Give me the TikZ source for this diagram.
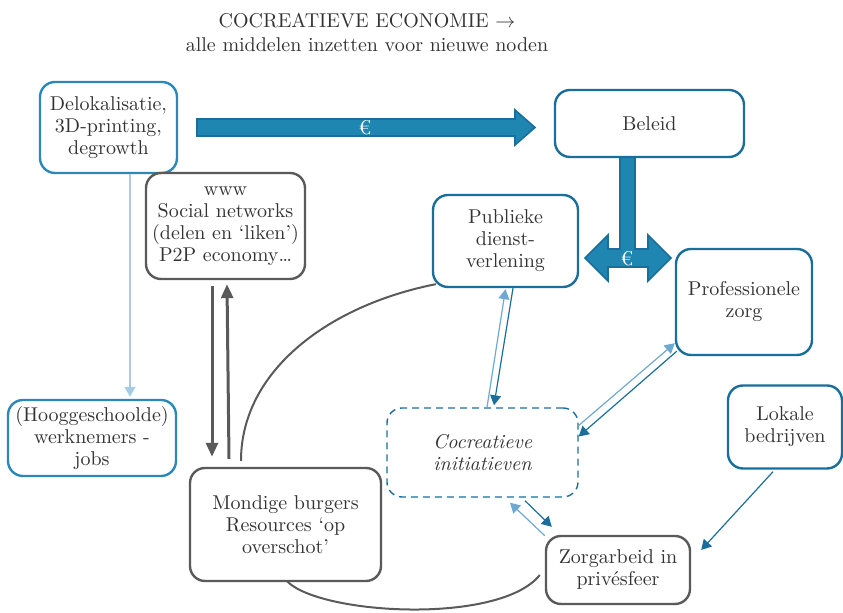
\documentclass[tikz,border=0pt]{standalone}
\usetikzlibrary{arrows.meta, calc}

\definecolor{txtgray}{HTML}{333333}
\definecolor{linegray}{HTML}{5A5A5A}
\definecolor{midblue}{HTML}{2B88B8}
\definecolor{darkblue}{HTML}{1A6E9C}
\definecolor{fillblue}{HTML}{1E86B0}
\definecolor{lightblue}{HTML}{6FA8D0}
\definecolor{paleblue}{HTML}{A8CCE4}

\begin{document}
\begin{tikzpicture}[
    x=0.5pt, y=-0.5pt, % one unit is one pixel of the reference, y downwards
    font=\fontsize{10}{11}\selectfont,
    every node/.style={text=txtgray, align=center, inner sep=0pt},
    box/.style={draw, rounded corners=7.5pt, line width=1.2pt, fill=white}, % all boxes
    bluebox/.style={box, draw=midblue}, % light border
    darkbox/.style={box, draw=darkblue}, % dark border
    graybox/.style={box, draw=linegray}, % gray border
    dashbox/.style={box, draw=darkblue, line width=0.7pt, dashed, dash pattern=on 3.5pt off 2.5pt}, % initiatives
    blockarrow/.style={fill=fillblue, draw=darkblue, line width=0.8pt}, % euro arrows
    eurolabel/.style={text=white}, % euro sign
    grayarrow/.style={draw=linegray, line width=1.5pt, -{Triangle[width=6pt, length=7pt]}}, % thick gray arrows
    grayline/.style={draw=linegray, line width=1pt}, % gray curves
    darkarrow/.style={draw=darkblue, line width=0.6pt, -{Triangle[width=5.5pt, length=5pt]}}, % dark blue arrows
    lightarrow/.style={draw=lightblue, line width=0.6pt, -{Triangle[width=5.5pt, length=5pt]}}, % light blue arrows
    palearrow/.style={draw=paleblue, line width=0.6pt, -{Triangle[width=5.5pt, length=5pt]}} % palest arrow
]
    \useasboundingbox (0,0) rectangle (843,613);

    % Title
    \node[font=\fontsize{10}{12}\selectfont] (title) at (367,32)
        {COCREATIEVE ECONOMIE $\rightarrow$\\alle middelen inzetten voor nieuwe noden};

    % Euro arrows
    \draw[blockarrow] (197,119) -- (515,119) -- (515,110) -- (535,127.5) -- (515,145)
        -- (515,136) -- (197,136) -- cycle;
    \node[eurolabel] (euroa) at (365,128) {€};
    \draw[blockarrow] (620,157) -- (635,157) -- (635,249) -- (648,249) -- (648,235)
        -- (671,258) -- (648,281) -- (648,267) -- (608,267) -- (608,281) -- (585,258)
        -- (608,235) -- (608,249) -- (620,249) -- cycle;
    \node[eurolabel] (eurob) at (627,259) {€};

    % Boxes
    \node[bluebox, minimum width=68.5pt, minimum height=45.5pt] (deloc) at (108.5,127.5)
        {Delokalisatie,\\3D-printing,\\degrowth};
    \node[darkbox, minimum width=94.5pt, minimum height=33.5pt] (beleid) at (649.5,123.5) {Beleid};
    \node[graybox, minimum width=79.5pt, minimum height=53pt] (www) at (225.5,226)
        {www\\Social networks\\(delen en ‘liken’)\\P2P economy\dots};
    \node[darkbox, minimum width=72.5pt, minimum height=46pt] (publiek) at (505.5,241)
        {Publieke\\dienst-\\verlening};
    \node[darkbox, minimum width=68pt, minimum height=53pt] (prof) at (744,302)
        {Professionele\\zorg};
    \node[darkbox, minimum width=57pt, minimum height=41.5pt] (lokaal) at (785,427)
        {Lokale\\bedrijven};
    \node[bluebox, minimum width=84pt, minimum height=38pt] (hoog) at (92,438)
        {(Hooggeschoolde)\\werknemers -\\jobs};
    \node[dashbox, minimum width=95.5pt, minimum height=44.5pt] (cocr) at (482.5,452.5)
        {\itshape Cocreatieve\\\itshape initiatieven};
    \node[graybox, minimum width=95.5pt, minimum height=56.5pt] (mondig) at (285.5,524.5)
        {Mondige burgers\\Resources ‘op\\overschot’};
    \node[graybox, minimum width=72pt, minimum height=34pt] (zorg) at (618,570)
        {Zorgarbeid in\\privésfeer};

    % Connectors
    \draw[palearrow] ($(deloc.south)+(21.5,0)$) -- ($(hoog.north)+(38,-2)$);
    \draw[grayarrow] ($(www.south)+(-13.5,6)$) -- ($(mondig.north)+(-73.5,-10)$);
    \draw[grayarrow] ($(mondig.north)+(-56.5,-8)$) -- ($(www.south)+(1.5,4)$);
    \draw[grayline] ($(mondig.north)+(-44.5,-6)$) .. controls (241,370) and (330,305)
        .. ($(publiek.south west)+(4,-4)$);
    \draw[grayline] ($(mondig.south)+(1.5,-1)$) .. controls (320,615) and (500,625)
        .. ($(zorg.west)+(-5,5)$);
    \draw[lightarrow] ($(cocr.north)+(4.5,0)$) -- ($(publiek.south)+(0,1)$);
    \draw[darkarrow] ($(publiek.south)+(7.5,0)$) -- ($(cocr.north)+(11.5,-2)$);
    \draw[lightarrow] ($(cocr.east)+(0,-27)$) -- ($(prof.south west)+(0,-13)$);
    \draw[darkarrow] ($(prof.south west)+(2,-5)$) -- ($(cocr.east)+(0,-16)$);
    \draw[lightarrow] ($(zorg.north west)+(0,1)$) -- ($(cocr.south)+(27.5,5)$);
    \draw[darkarrow] ($(cocr.south)+(42.5,3)$) -- ($(zorg.north west)+(7,-8)$);
    \draw[darkarrow] ($(lokaal.south)+(-12,2)$) -- ($(zorg.east)+(10,-20)$);

\end{tikzpicture}
\end{document}
